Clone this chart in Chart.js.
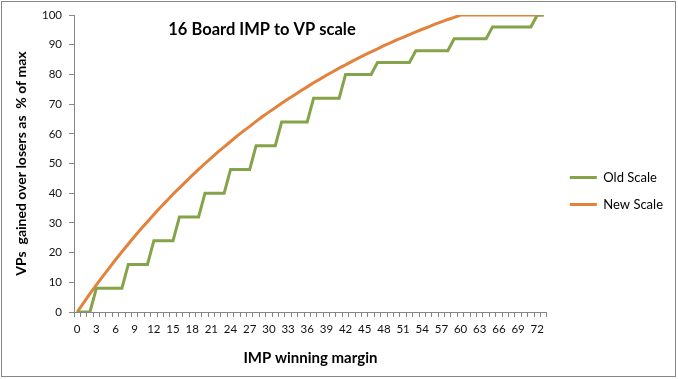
<!DOCTYPE html>
<html>
<head>
<meta charset="utf-8">
<script src="https://cdn.jsdelivr.net/npm/chart.js@4.4.1/dist/chart.umd.min.js"></script>
<style>
  html, body { margin: 0; padding: 0; background: #fff; }
  #wrap { width: 678px; height: 379px; }
</style>
</head>
<body>
<div id="wrap"><canvas id="c" width="678" height="379"></canvas></div>
<script>
const chartTitle = '16 Board IMP to VP scale';
const xAxisTitle = 'IMP winning margin';
const yAxisTitle = 'VPs  gained over losers as  % of max';
const seriesNames = ['Old Scale', 'New Scale'];

const categories = [0,1,2,3,4,5,6,7,8,9,10,11,12,13,14,15,16,17,18,19,20,21,22,23,24,25,26,27,28,29,30,31,32,33,34,35,36,37,38,39,40,41,42,43,44,45,46,47,48,49,50,51,52,53,54,55,56,57,58,59,60,61,62,63,64,65,66,67,68,69,70,71,72,73];
const xTickEvery = 3;
const yTicks = [0,10,20,30,40,50,60,70,80,90,100];

const oldScale = [0,0,0,8,8,8,8,8,16,16,16,16,24,24,24,24,32,32,32,32,40,40,40,40,48,48,48,48,56,56,56,56,64,64,64,64,64,72,72,72,72,72,80,80,80,80,80,84,84,84,84,84,84,88,88,88,88,88,88,92,92,92,92,92,92,96,96,96,96,96,96,96,100,100];
const newScale = [0,3.1,6.2,9.1,12.0,14.8,17.6,20.3,22.9,25.5,28.0,30.4,32.8,35.2,37.4,39.7,41.8,43.9,46.0,48.0,50.0,51.9,53.8,55.6,57.4,59.2,60.9,62.5,64.2,65.8,67.3,68.8,70.3,71.7,73.1,74.5,75.8,77.2,78.4,79.7,80.9,82.1,83.2,84.4,85.5,86.6,87.6,88.6,89.7,90.6,91.6,92.5,93.4,94.3,95.2,96.0,96.9,97.7,98.5,99.2,100,100,100,100,100,100,100,100,100,100,100,100,100,100];

const axisColor = '#868686';
Chart.defaults.font.family = 'Lato, "Open Sans", sans-serif';
Chart.defaults.color = '#111';

const frame = {
  id: 'frame',
  afterLayout(chart) {
    const lg = chart.legend;
    if (lg) {
      const w = lg.width;
      lg.left = chart.chartArea.right + 9;
      lg.right = lg.left + w;
      lg.adjustHitBoxes();
    }
  },
  afterDraw(chart) {
    const ctx = chart.ctx;
    ctx.save();
    ctx.strokeStyle = axisColor;
    ctx.lineWidth = 1;
    ctx.strokeRect(1.5, 1.5, 674, 375);
    ctx.fillStyle = '#000';
    ctx.font = 'bold 16.5px Lato, "Open Sans", sans-serif';
    ctx.textAlign = 'center';
    ctx.textBaseline = 'middle';
    ctx.fillText(chartTitle, 262, 30);
    ctx.restore();
  }
};

new Chart(document.getElementById('c'), {
  type: 'line',
  data: {
    labels: categories,
    datasets: [
      { label: seriesNames[0], data: oldScale, borderColor: '#85A349', backgroundColor: '#85A349', borderWidth: 3, pointRadius: 0, tension: 0, fill: false },
      { label: seriesNames[1], data: newScale, borderColor: '#E2823D', backgroundColor: '#E2823D', borderWidth: 3, pointRadius: 0, tension: 0, fill: false }
    ]
  },
  options: {
    responsive: false,
    animation: false,
    devicePixelRatio: 1,
    layout: { padding: { left: 6, top: 15, right: 14, bottom: 12 } },
    plugins: {
      tooltip: { enabled: false },
      title: { display: false },
      legend: {
        position: 'right',
        labels: {
          usePointStyle: true,
          pointStyle: 'line',
          pointStyleWidth: 27,
          padding: 14,
          color: '#000',
          font: { size: 13 }
        }
      }
    },
    scales: {
      x: {
        type: 'category',
        offset: true,
        grid: { offset: true, drawOnChartArea: false, drawTicks: true, tickLength: 5, color: axisColor },
        border: { color: axisColor, width: 1 },
        ticks: {
          autoSkip: false, maxRotation: 0, minRotation: 0, padding: 5,
          font: { size: 11.5 },
          callback: function(v, i) { const c = categories[i]; return c % xTickEvery === 0 ? String(c) : ''; }
        },
        title: { display: true, text: xAxisTitle, color: '#000', font: { size: 15, weight: 'bold' }, padding: { top: 7, bottom: 0 } },
        afterFit(s) { s.height = 55; }
      },
      y: {
        min: 0, max: 100,
        grid: { drawOnChartArea: false, drawTicks: true, tickLength: 5, color: axisColor },
        border: { color: axisColor, width: 1 },
        afterBuildTicks(s) { s.ticks = yTicks.map(v => ({ value: v })); },
        ticks: { padding: 7, font: { size: 11.5 } },
        title: { display: true, text: yAxisTitle, color: '#000', font: { size: 14, weight: 'bold' }, padding: { top: 7, bottom: 0 } },
        afterFit(s) { s.width = 68; }
      }
    }
  },
  plugins: [frame]
});
</script>
</body>
</html>
